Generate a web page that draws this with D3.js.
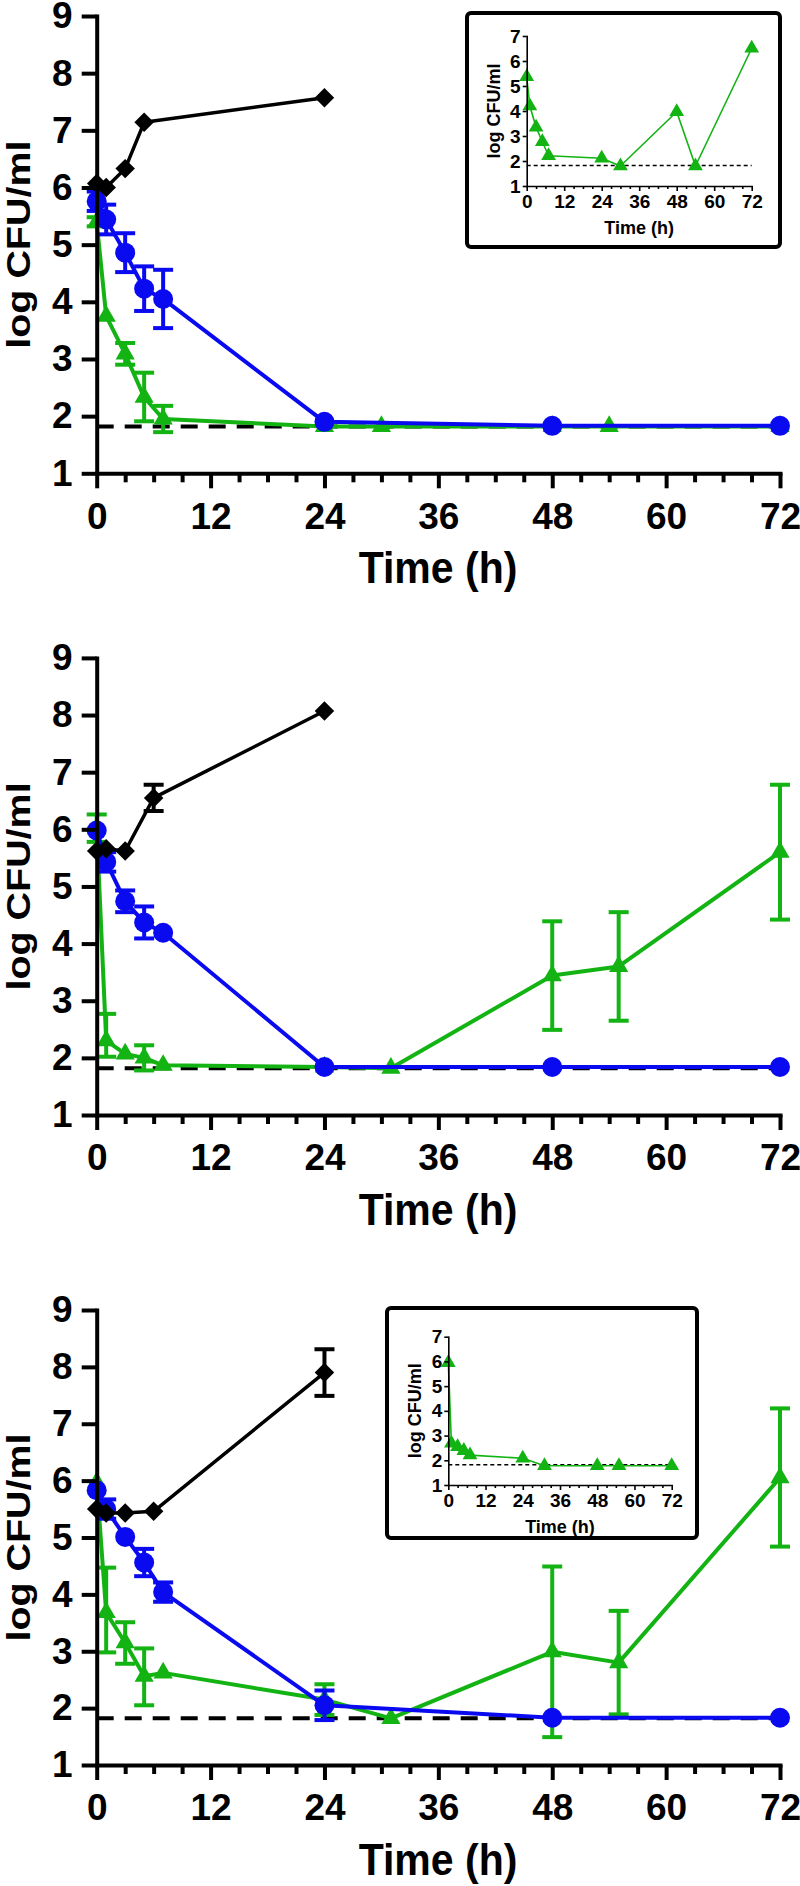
<!DOCTYPE html>
<html><head><meta charset="utf-8">
<script src="https://cdn.jsdelivr.net/npm/d3@7"></script>
<style>
body{margin:0;background:#fff}
svg{display:block}
text{font-family:"Liberation Sans",Arial,Helvetica,sans-serif;font-weight:bold;fill:#000}
</style>
</head><body><div id="chart"></div>
<script>
// ---------- DATA ----------
const xTicks = [0, 12, 24, 36, 48, 60, 72];
const yTicks = [1, 2, 3, 4, 5, 6, 7, 8, 9];
const insetYTicks = [1, 2, 3, 4, 5, 6, 7];
const xTitle = "Time (h)";
const yTitle = "log CFU/ml";
const LOD = 1.82;

// Panel 1
const black1Times = [0, 1, 3, 5, 24];
const black1 = [6.07, 6.0, 6.33, 7.14, 7.57];
const black1Sd = [0, 0, 0, 0, 0];
const blueTimes = [0, 1, 3, 5, 7, 24, 48, 72];
const blue1 = [5.76, 5.44, 4.86, 4.23, 4.05, 1.9, 1.83, 1.83];
const blue1Sd = [0.17, 0.26, 0.34, 0.39, 0.51, 0, 0, 0];
const green1Times = [0, 1, 3, 5, 7, 24, 30, 48, 54, 72];
const green1 = [5.4, 3.75, 3.09, 2.33, 1.95, 1.82, 1.82, 1.82, 1.82, 1.82];
const green1Up = [0.08, 0, 0.19, 0.43, 0.23, 0, 0, 0, 0, 0];
const green1Down = [0.08, 0, 0.19, 0.42, 0.23, 0, 0, 0, 0, 0];
const inset1Times = [0, 1, 3, 5, 7, 24, 30, 48, 54, 72];
const inset1 = [5.37, 4.2, 3.35, 2.77, 2.21, 2.11, 1.8, 3.97, 1.8, 6.51];

// Panel 2
const black23Times = [0, 1, 3, 6, 24];
const black2 = [5.62, 5.66, 5.62, 6.55, 8.07];
const black2Sd = [0, 0, 0, 0.23, 0];
const blue2 = [5.98, 5.43, 4.74, 4.37, 4.19, 1.84, 1.84, 1.84];
const blue2Sd = [0, 0.17, 0.19, 0.28, 0, 0, 0, 0];
const green23Times = [0, 1, 3, 5, 7, 24, 31, 48, 55, 72];
const green2 = [6.02, 2.3, 2.07, 2.0, 1.87, 1.84, 1.82, 3.44, 3.6, 5.6];
const green2Up = [0.24, 0.47, 0, 0.22, 0, 0, 0, 0.95, 0.95, 1.18];
const green2Down = [0.24, 0.28, 0, 0.22, 0, 0, 0, 0.95, 0.95, 1.18];

// Panel 3
const black3 = [5.5, 5.43, 5.43, 5.46, 7.9];
const black3Sd = [0, 0, 0, 0, 0.41];
const blue3 = [5.83, 5.5, 5.01, 4.56, 4.04, 2.05, 1.83, 1.83];
const blue3Sd = [0, 0.17, 0, 0.24, 0.17, 0.26, 0, 0];
const green3 = [5.97, 3.68, 3.15, 2.56, 2.62, 2.15, 1.82, 2.99, 2.8, 6.05];
const green3Up = [0, 0.79, 0.36, 0.49, 0, 0.27, 0, 1.5, 0.91, 1.22];
const green3Down = [0, 0.7, 0.37, 0.51, 0, 0.27, 0, 1.5, 0.91, 1.21];
const inset3Times = [0, 1, 3, 5, 7, 24, 31, 48, 55, 72];
const inset3 = [5.95, 2.69, 2.55, 2.39, 2.21, 2.08, 1.78, 1.78, 1.78, 1.78];

// ---------- STYLE ----------
const BLUE = "#0a0af0", GREEN = "#12b312", BLACK = "#000";
const W = 800, H = 1886;
const fmt = d3.format("d");

const svg = d3.select("#chart").append("svg").attr("width", W).attr("height", H);

function zip(ts, vs, up, down) {
  return ts.map((t, i) => ({ t, v: vs[i], up: up ? up[i] : 0, down: down ? down[i] : 0 }));
}

function drawSeries(g, x, y, data, color, shape, opt) {
  const line = d3.line().x(d => x(d.t)).y(d => y(d.v));
  g.append("path").datum(data).attr("d", line).attr("fill", "none")
    .attr("stroke", color).attr("stroke-width", opt.lw).attr("stroke-linejoin", "round");
  const eb = g.append("g").attr("stroke", color).attr("stroke-width", opt.ew);
  data.filter(d => d.up > 0 || d.down > 0).forEach(d => {
    const cx = x(d.t), y1 = y(d.v + d.up), y2 = y(d.v - d.down);
    eb.append("line").attr("x1", cx).attr("x2", cx).attr("y1", y1).attr("y2", y2);
    if (d.up > 0) eb.append("line").attr("x1", cx - opt.cap).attr("x2", cx + opt.cap).attr("y1", y1).attr("y2", y1);
    if (d.down > 0) eb.append("line").attr("x1", cx - opt.cap).attr("x2", cx + opt.cap).attr("y1", y2).attr("y2", y2);
  });
  const sym = d3.symbol().type(shape.type).size(shape.size);
  g.append("g").selectAll("path").data(data).join("path")
    .attr("d", sym)
    .attr("transform", d => `translate(${x(d.t)},${y(d.v)})` + (shape.rot ? ` rotate(${shape.rot})` : ""))
    .attr("fill", color);
}

function styleAxis(ax, w) {
  ax.select(".domain").attr("stroke", "#000").attr("stroke-width", w).attr("stroke-linecap", "square");
  ax.selectAll(".tick line").attr("stroke", "#000").attr("stroke-width", w);
}

function drawPanel(cfg) {
  const g = svg.append("g");
  const x = d3.scaleLinear().domain([0, 72]).range([96.7, 780]);
  const y = d3.scaleLinear().domain([1, 9]).range([cfg.bottom, cfg.top]);

  g.append("line").attr("x1", x(0)).attr("x2", x(72)).attr("y1", y(LOD)).attr("y2", y(LOD))
    .attr("stroke", "#000").attr("stroke-width", 4).attr("stroke-dasharray", "17,11");

  const opt = { lw: 4, ew: 4, cap: 10 };
  drawSeries(g, x, y, cfg.green, GREEN, { type: d3.symbolTriangle, size: 160 }, opt);
  drawSeries(g, x, y, cfg.blue, BLUE, { type: d3.symbolCircle, size: 314 }, opt);
  drawSeries(g, x, y, cfg.black, BLACK, { type: d3.symbolSquare, size: 190, rot: 45 }, { lw: 3.5, ew: 4, cap: 10 });

  const ya = g.append("g").attr("transform", `translate(${x(0)},0)`)
    .call(d3.axisLeft(y).tickValues(yTicks).tickFormat(fmt).tickSize(15).tickSizeOuter(0).tickPadding(9));
  styleAxis(ya, 4);
  ya.selectAll("text").style("font-size", "37px");

  const xm = g.append("g").attr("transform", `translate(0,${y(1)})`)
    .call(d3.axisBottom(x).tickValues(d3.range(0, 73, 3).filter(v => v % 12 !== 0)).tickSize(9).tickSizeOuter(0).tickFormat(""));
  styleAxis(xm, 4);
  xm.select(".domain").remove();
  const xa = g.append("g").attr("transform", `translate(0,${y(1)})`)
    .call(d3.axisBottom(x).tickValues(xTicks).tickFormat(fmt).tickSize(15).tickSizeOuter(0).tickPadding(14));
  styleAxis(xa, 4);
  xa.selectAll("text").style("font-size", "37px");

  g.append("text").attr("transform", `translate(438,${y(1) + 110}) scale(1,1.07)`).attr("text-anchor", "middle")
    .style("font-size", "41px").text(xTitle);
  g.append("text").attr("transform", `translate(30,${(y(1) + y(9)) / 2}) rotate(-90) scale(1.16,1)`)
    .attr("text-anchor", "middle").style("font-size", "34px").text(yTitle);

  if (cfg.inset) drawInset(cfg.inset);
}

function drawInset(c) {
  const g = svg.append("g");
  g.append("rect").attr("x", c.box[0]).attr("y", c.box[1]).attr("width", c.box[2]).attr("height", c.box[3])
    .attr("rx", 4).attr("fill", "#fff").attr("stroke", "#000").attr("stroke-width", 4);
  const x = d3.scaleLinear().domain([0, 72]).range(c.xr);
  const y = d3.scaleLinear().domain([1, 7]).range(c.yr);

  g.append("line").attr("x1", x(0)).attr("x2", x(72)).attr("y1", y(LOD)).attr("y2", y(LOD))
    .attr("stroke", "#000").attr("stroke-width", 1.6).attr("stroke-dasharray", "4,3");

  drawSeries(g, x, y, c.data, GREEN, { type: d3.symbolTriangle, size: 95 }, { lw: 1.6, ew: 1.6, cap: 4 });

  const ya = g.append("g").attr("transform", `translate(${x(0)},0)`)
    .call(d3.axisLeft(y).tickValues(insetYTicks).tickFormat(fmt).tickSize(4).tickSizeOuter(0).tickPadding(2));
  styleAxis(ya, 1.6);
  ya.selectAll("text").style("font-size", "19px");
  const xm = g.append("g").attr("transform", `translate(0,${y(1)})`)
    .call(d3.axisBottom(x).tickValues(d3.range(0, 73, 3).filter(v => v % 12 !== 0)).tickSize(3).tickSizeOuter(0).tickFormat(""));
  styleAxis(xm, 1.6);
  xm.select(".domain").remove();
  const xa = g.append("g").attr("transform", `translate(0,${y(1)})`)
    .call(d3.axisBottom(x).tickValues(xTicks).tickFormat(fmt).tickSize(5).tickSizeOuter(0).tickPadding(4));
  styleAxis(xa, 1.6);
  xa.selectAll("text").style("font-size", "19px");

  g.append("text").attr("x", (c.xr[0] + c.xr[1]) / 2).attr("y", y(1) + 48).attr("text-anchor", "middle")
    .style("font-size", "18px").text(xTitle);
  g.append("text").attr("transform", `translate(${x(0) - 27},${(y(1) + y(7)) / 2}) rotate(-90)`)
    .attr("text-anchor", "middle").style("font-size", "18px").text(yTitle);
}

drawPanel({
  top: 16, bottom: 473.3,
  black: zip(black1Times, black1, black1Sd, black1Sd),
  blue: zip(blueTimes, blue1, blue1Sd, blue1Sd),
  green: zip(green1Times, green1, green1Up, green1Down),
  inset: { box: [467, 13, 313, 234], xr: [526.7, 751.7], yr: [186, 36], data: zip(inset1Times, inset1) }
});
drawPanel({
  top: 657.9, bottom: 1115,
  black: zip(black23Times, black2, black2Sd, black2Sd),
  blue: zip(blueTimes, blue2, blue2Sd, blue2Sd),
  green: zip(green23Times, green2, green2Up, green2Down)
});
drawPanel({
  top: 1310, bottom: 1765,
  black: zip(black23Times, black3, black3Sd, black3Sd),
  blue: zip(blueTimes, blue3, blue3Sd, blue3Sd),
  green: zip(green23Times, green3, green3Up, green3Down),
  inset: { box: [387, 1308, 310, 230], xr: [448.3, 671.7], yr: [1485, 1336.7], data: zip(inset3Times, inset3) }
});
</script>
</body></html>
